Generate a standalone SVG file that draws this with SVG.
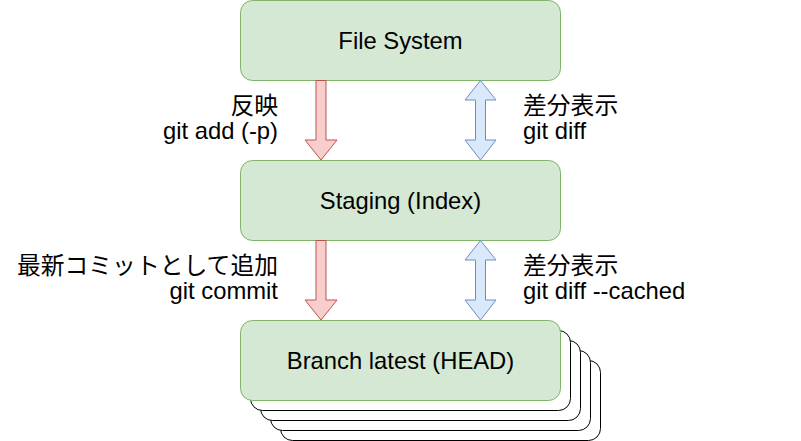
<svg xmlns="http://www.w3.org/2000/svg" width="801" height="441" viewBox="0 0 801 441">
<style>
.box{fill:#d5e8d4;stroke:#82b366;stroke-width:1}
.stack{fill:#ffffff;stroke:#000000;stroke-width:1}
.t{font-family:"Liberation Sans",Arial,"Noto Sans CJK JP",sans-serif;font-size:23.8px;fill:#000}
.red{fill:#f8cecc;stroke:#b85450;stroke-width:1}
.blue{fill:#dae8fc;stroke:#6c8ebf;stroke-width:1}
</style>
<rect width="801" height="441" fill="#ffffff"/>
<g id="file-system">
<rect class="box" x="240.5" y="0.5" width="320" height="80" rx="12"/>
<text class="t" x="400.5" y="48.5" text-anchor="middle">File System</text>
</g>
<g id="staging">
<rect class="box" x="240.5" y="160.5" width="320" height="80" rx="12"/>
<text class="t" x="400.5" y="208.5" text-anchor="middle">Staging (Index)</text>
</g>
<g id="branch">
<rect class="stack" x="280.5" y="360.5" width="320" height="80" rx="12"/>
<rect class="stack" x="270.5" y="350.5" width="320" height="80" rx="12"/>
<rect class="stack" x="260.5" y="340.5" width="320" height="80" rx="12"/>
<rect class="stack" x="250.5" y="330.5" width="320" height="80" rx="12"/>
<rect class="box" x="240.5" y="320.5" width="320" height="80" rx="12"/>
<text class="t" x="400.5" y="368.5" text-anchor="middle">Branch latest (HEAD)</text>
</g>
<g id="connectors">
<path class="red" d="M316,80.5 L326,80.5 L326,140 L337,140 L321,160 L305,140 L316,140 Z"/>
<path class="red" d="M316,240.5 L326,240.5 L326,300 L337,300 L321,320 L305,300 L316,300 Z"/>
<path class="blue" d="M480.5,80.5 L496,100 L485.5,100 L485.5,140 L496,140 L480.5,160 L465,140 L475.5,140 L475.5,100 L465,100 Z"/>
<path class="blue" d="M480.5,240.5 L496,260 L485.5,260 L485.5,300 L496,300 L480.5,320 L465,300 L475.5,300 L475.5,260 L465,260 Z"/>
</g>
<g id="labels">
<text class="t" x="278" y="114" text-anchor="end">反映</text>
<text class="t" x="278" y="139" text-anchor="end">git add (-p)</text>
<text class="t" x="278" y="274" text-anchor="end">最新コミットとして追加</text>
<text class="t" x="278" y="299" text-anchor="end">git commit</text>
<text class="t" x="523" y="114">差分表示</text>
<text class="t" x="523" y="139">git diff</text>
<text class="t" x="523" y="274">差分表示</text>
<text class="t" x="523" y="299">git diff --cached</text>
</g>
</svg>
